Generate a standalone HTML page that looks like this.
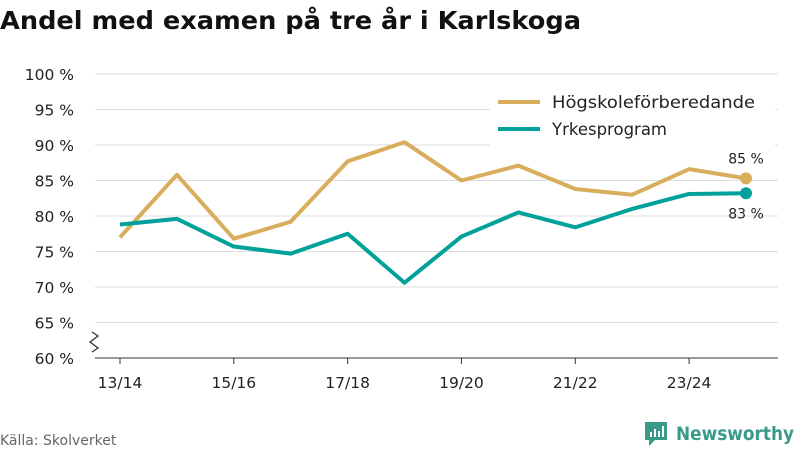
<!DOCTYPE html>
<html><head><meta charset="utf-8"><style>
body{margin:0;width:800px;height:450px;background:#fff;font-family:"DejaVu Sans","Liberation Sans",sans-serif;overflow:hidden}
</style></head><body>
<svg id="c" width="800" height="450" xmlns="http://www.w3.org/2000/svg">
<text x="0" y="29" font-size="25" font-weight="bold" fill="#111" textLength="581" lengthAdjust="spacingAndGlyphs">Andel med examen på tre år i Karlskoga</text>
<g id="grid"></g><g id="ax"></g><g id="series"></g>
<g>
<rect x="490" y="86" width="285" height="60" fill="#fff"/>
<line x1="498" y1="102" x2="540" y2="102" stroke="#d8ad5b" stroke-width="4"/>
<text x="552" y="108" font-size="16.5" fill="#222" textLength="203" lengthAdjust="spacingAndGlyphs">Högskoleförberedande</text>
<line x1="498" y1="129" x2="540" y2="129" stroke="#00a19a" stroke-width="4"/>
<text x="552" y="135" font-size="16.5" fill="#222">Yrkesprogram</text>
</g>
<text x="0" y="445" font-size="14" fill="#666">Källa: Skolverket</text>
<g>
<path d="M645 422 h22 v18 h-12 l-6 6 v-6 h-4 z" fill="#3a9a8a"/>
<rect x="650" y="432" width="2" height="5" fill="#fff"/><rect x="654" y="429" width="2" height="8" fill="#fff"/><rect x="658" y="431" width="2" height="6" fill="#fff"/><rect x="662" y="426" width="2" height="11" fill="#fff"/>
<text x="676" y="440" font-size="19" font-weight="bold" fill="#3a9a8a" textLength="118" lengthAdjust="spacingAndGlyphs">Newsworthy</text>
</g>
</svg>
<script>
const categories=["13/14","14/15","15/16","16/17","17/18","18/19","19/20","20/21","21/22","22/23","23/24","24/25"];
const hogskole=[77.0,85.8,76.8,79.2,87.7,90.4,85.0,87.1,83.8,83.0,86.6,85.3];
const yrkes=[78.8,79.6,75.7,74.7,77.5,70.6,77.1,80.5,78.4,81.0,83.1,83.2];
const yTicks=[60,65,70,75,80,85,90,95,100];
const NS="http://www.w3.org/2000/svg";
const x=i=>120+i*(746-120)/11;
const y=v=>358-(v-60)*7.1;
function mk(t,a,p){const e=document.createElementNS(NS,t);for(const k in a)e.setAttribute(k,a[k]);p.appendChild(e);return e;}
const grid=document.getElementById('grid'),ax=document.getElementById('ax'),ser=document.getElementById('series');
yTicks.forEach(v=>{
 if(v>60){const l=mk('line',{x1:95,x2:778,y1:y(v),y2:y(v),stroke:'#ddd','stroke-width':1},grid);
 
 }
 const t=mk('text',{x:74,y:y(v)+6,'text-anchor':'end','font-size':15.5,fill:'#222'},ax);t.textContent=v+' %';
 
 
});
const base=mk('line',{x1:95,x2:778,y1:358,y2:358,stroke:'#333','stroke-width':1},ax);


mk('path',{d:'M92 332 l6 4 l-8 6 l8 6 l-6 4',fill:'none',stroke:'#333','stroke-width':1.3},ax);
categories.forEach((c,i)=>{
 if(i%2)return;
 mk('line',{x1:x(i),x2:x(i),y1:358,y2:364,stroke:'#333'},ax);
 const t=mk('text',{x:x(i),y:388,'text-anchor':'middle','font-size':15.5,fill:'#222'},ax);t.textContent=c;
 
 
});
function line(d,col,name){
 const p=mk('path',{d:d.map((v,i)=>(i?'L':'M')+x(i)+' '+y(v)).join(''),fill:'none',stroke:col,'stroke-width':4,'stroke-linejoin':'round'},ser);
 
 
 const n=d.length-1;
 const c=mk('circle',{cx:x(n),cy:y(d[n]),r:6,fill:col},ser);
 
 
}
line(hogskole,'#d8ad5b','hogskole');
line(yrkes,'#00a19a','yrkes');
const n=categories.length-1;
let t=mk('text',{x:x(n),y:y(hogskole[n])-15,'text-anchor':'middle','font-size':14,fill:'#222'},ser);t.textContent=Math.round(hogskole[n])+' %';


t=mk('text',{x:x(n),y:y(yrkes[n])+25,'text-anchor':'middle','font-size':14,fill:'#222'},ser);t.textContent=Math.round(yrkes[n])+' %';


</script>
</body></html>
